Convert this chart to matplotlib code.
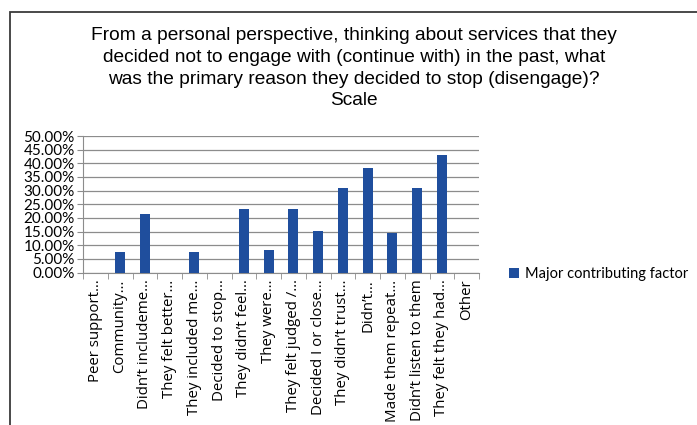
import matplotlib as mpl
mpl.use('Agg')
import matplotlib.pyplot as plt
import numpy as np
from matplotlib.patches import Rectangle
from matplotlib.ticker import PercentFormatter

categories = ['Peer support…', 'Community…', 'Didn’t includeme…', 'They felt better…',
              'They included me…', 'Decided to stop…', 'They didn’t feel…', 'They were…',
              'They felt judged /…', 'Decided I or close…', 'They didn’t trust…', 'Didn’t…',
              'Made them repeat…', 'Didn’t listen to them', 'They felt they had…', 'Other']
major = [0, 7.69, 21.43, 0, 7.69, 0, 23.08, 8.33, 23.08, 15.38, 30.77, 38.46,
         14.29, 30.77, 42.86, 0]
yticks = np.arange(0, 51, 5)

title = ('From a personal perspective, thinking about services that they\n'
         'decided not to engage with (continue with) in the past, what\n'
         'was the primary reason they decided to stop (disengage)?\nScale')

W, H = 697, 425
fig = plt.figure(figsize=(W / 100, H / 100), dpi=100)
ax = fig.add_axes([83 / W, 1 - 272.5 / H, 396 / W, 136.5 / H])

# chart frame (left and top border)
fig.patches.append(Rectangle((10 / W, -0.1), 1.0, 1 - 11.5 / H + 0.1,
                             transform=fig.transFigure, fill=False,
                             edgecolor='#3a3a3a', linewidth=1.3))

x = np.arange(len(categories))
ax.bar(x, major, width=0.4, color='#1f4e9d', label='Major contributing factor', zorder=3)

ax.set_xlim(-0.5, len(categories) - 0.5)
ax.set_ylim(0, 50)
ax.set_yticks(yticks)
ax.yaxis.set_major_formatter(PercentFormatter(decimals=2))
ax.grid(axis='y', color='#8c8c8c', linewidth=0.9, zorder=0)

ax.set_xticks(x)
ax.set_xticklabels(categories, rotation=90, fontsize=10.8, family='Open Sans')
ax.set_xticks(np.arange(-0.5, len(categories)), minor=True)
ax.tick_params(axis='x', which='major', length=0, pad=5)
ax.tick_params(axis='x', which='minor', length=4, color='#8c8c8c')
ax.tick_params(axis='y', length=4, color='#8c8c8c', labelsize=11, pad=2)
for lab in ax.get_yticklabels():
    lab.set_family('Lato')

for s in ['top', 'right']:
    ax.spines[s].set_visible(False)
for s in ['left', 'bottom']:
    ax.spines[s].set_color('#8c8c8c')

fig.text(354 / W, 1 - 27 / H, title, ha='center', va='top', fontsize=13.8,
         family='Liberation Sans', linespacing=1.37)

fig.legend(loc='center left', bbox_to_anchor=(496 / W, 1 - 274 / H), frameon=False,
           prop={'family': 'Lato', 'size': 10.5}, handlelength=0.7, handleheight=0.7,
           handletextpad=0.4)

fig.savefig('out.png', dpi=100)
